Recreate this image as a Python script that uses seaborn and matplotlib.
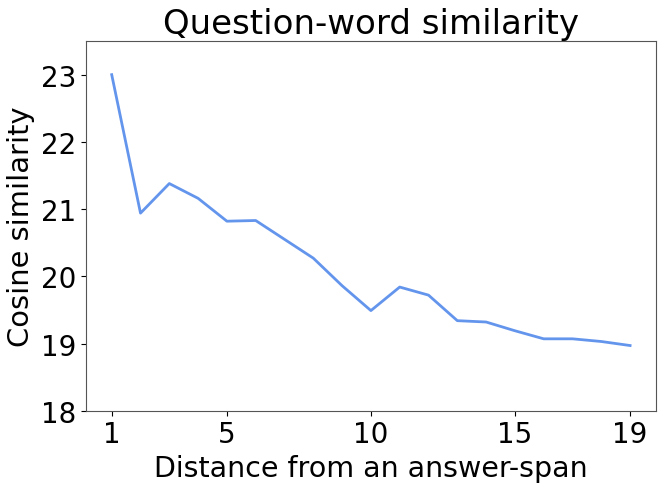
#!/usr/bin/env python
# -*- coding: utf-8 -*-

"""
Plot question-word similarity vs. distance from answer span
"""

import matplotlib
matplotlib.use('Agg')
import matplotlib.pyplot as plt
import pandas as pd
import seaborn as sns

distance = list(range(1, 20))
similarity = [23.00, 20.94, 21.38, 21.16, 20.82, 20.83, 20.55, 20.27, 19.86,
              19.49, 19.84, 19.72, 19.34, 19.32, 19.19, 19.07, 19.07, 19.03,
              18.97]
xticks = [1, 5, 10, 15, 19]


def main():
  df = pd.DataFrame({'distance': distance, 'similarity': similarity})

  fig, ax = plt.subplots(figsize=(6.65, 4.89), dpi=100)
  sns.lineplot(data=df, x='distance', y='similarity', color='cornflowerblue',
               linewidth=2, ax=ax)

  ax.set_ylim(18, 23.5)
  ax.set_xticks(xticks)
  ax.set_yticks([18, 19, 20, 21, 22, 23])
  ax.tick_params(labelsize=20)
  for s in ax.spines.values():
    s.set_color('#555555')
  ax.set_title('Question-word similarity', fontsize=24.5)
  ax.set_xlabel('Distance from an answer-span', fontsize=20.5)
  ax.set_ylabel('Cosine similarity', fontsize=20.8)

  plt.subplots_adjust(left=0.129, right=0.9865, top=0.914, bottom=0.158)
  plt.savefig('out.png')
  plt.close()


if __name__ == '__main__':
  main()
